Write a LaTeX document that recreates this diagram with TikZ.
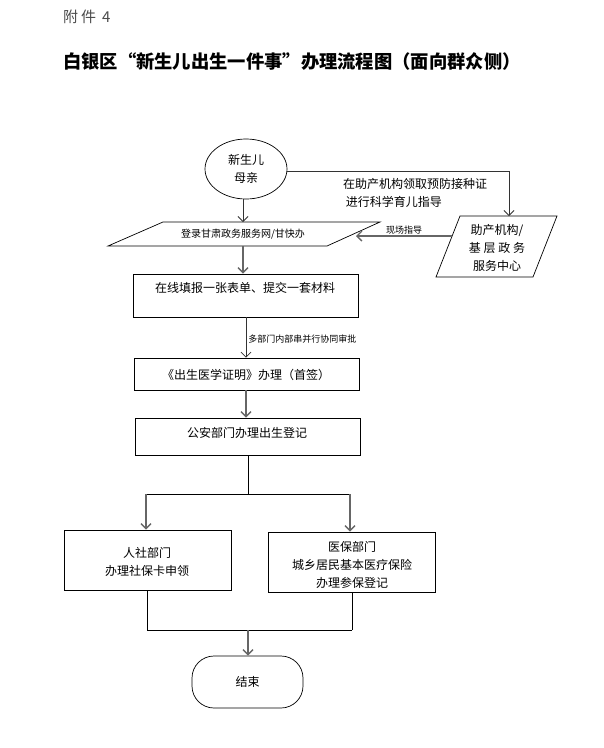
\documentclass[tikz,border=0pt]{standalone}
\usepackage{fontspec}
\setmainfont{Noto Sans CJK SC}
\usetikzlibrary{arrows.meta,shapes.geometric,fit}
\begin{document}
\begin{tikzpicture}[x=1pt,y=-1pt,
  lbl/.style={font=\fontsize{12}{18}\selectfont, align=center, inner sep=0pt},
  smalllbl/.style={font=\fontsize{9}{10}\selectfont, inner sep=0pt},
  boxr/.style={draw, line width=0.7pt, inner sep=0pt},
  ln/.style={draw=black, line width=0.7pt},
  arrthin/.style={draw=black!80, line width=0.8pt, -{Straight Barb[length=5pt,width=10pt]}},
  arrthick/.style={draw=black!60, line width=1.4pt, -{Straight Barb[length=5pt,width=10pt]}}]
\useasboundingbox (0,0) rectangle (604,748);
\fill[white] (0,0) rectangle (604,748);

% header
\node[anchor=west, inner sep=0pt, text=black!70, font=\fontsize{15}{16}\selectfont] (att) at (63,17) {附\hspace{3pt}件\hspace{6pt}4};
\node[anchor=west, inner sep=0pt, font=\fontsize{18.3}{20}\selectfont\bfseries] (title) at (63,62) {白银区“新生儿出生一件事”办理流程图（面向群众侧）};

% start ellipse
\node[draw, ellipse, line width=0.7pt, minimum width=82pt, minimum height=60pt, inner sep=0pt, lbl] (e) at (246,169) {新生儿\\母亲};

% parallelogram 1
\draw[ln] (163,222) -- (380,222) -- (327,246) -- (108,246) -- cycle;
\node[inner sep=0pt, font=\fontsize{10}{12}\selectfont] (p1) at (243,234) {登录甘肃政务服务网/甘快办};
\coordinate (p1top) at (243,222);
\coordinate (p1bot) at (243,246);
\coordinate (p1r) at (356,236);

% parallelogram 2
\draw[ln] (460,216) -- (557,216) -- (533,277) -- (436,277) -- cycle;
\node[lbl] (p2) at (497,248) {助产机构/\\基 层 政 务\\服务中心};
\coordinate (p2top) at (509,216);
\coordinate (p2l) at (452,236);

% side label
\node[lbl, anchor=west, align=left] (side) at (343,193) {在助产机构领取预防接种证\\\ 进行科学育儿指导};

% boxes
\node[boxr, fit={(133,274) (358,317)}] (b3) {};
\node[lbl] (t3) at (245,288) {在线填报一张表单、提交一套材料};
\node[boxr, fit={(134,358) (359,390)}] (b4) {};
\node[lbl] (t4) at (246,375) {《出生医学证明》办理（首签）};
\node[boxr, fit={(135,418) (360,455)}] (b5) {};
\node[lbl] (t5) at (247,433) {公安部门办理出生登记};
\node[boxr, fit={(64,530) (231,590)}] (bl) {};
\node[lbl] (tl) at (147,562) {人社部门\\办理社保卡申领};
\node[boxr, fit={(268,532) (435,592)}] (br) {};
\node[lbl] (tr) at (352,564.5) {医保部门\\城乡居民基本医疗保险\\办理参保登记};

% terminator
\node[draw, line width=0.7pt, rounded corners=22pt, minimum width=111pt, minimum height=52pt, inner sep=0pt, lbl] (end) at (247.5,682) {结束};

% junction coordinates
\coordinate (j1) at (248,494);
\coordinate (j1l) at (146,494);
\coordinate (j1r) at (350,494);
\coordinate (j2l) at (147,630);
\coordinate (j2r) at (352,630);
\coordinate (j2) at (248,630);

% connectors
\draw[arrthin] (p1top |- e.south) -- (p1top);
\draw[arrthin] (e.east |- 0,171) -| (p2top);
\draw[arrthick] (p2l) -- (p1r) node[midway, above=1pt, smalllbl] (lg) {现场指导};
\draw[arrthick] (p1bot) -- (p1bot |- b3.north);
\draw[arrthin] (b3.south -| 246,0) -- (b4.north -| 246,0) node[pos=0.55, right=2pt, smalllbl] (lm) {多部门内部串并行协同审批};
\draw[arrthick] (b4.south -| 246,0) -- (b5.north -| 246,0);
\draw[ln] (b5.south -| j1) -- (j1);
\draw[ln] (j1l) -- (j1r);
\draw[arrthick] (j1l) -- (j1l |- bl.north);
\draw[arrthick] (j1r) -- (j1r |- br.north);
\draw[ln] (bl.south -| j2l) -- (j2l);
\draw[ln] (br.south -| j2r) -- (j2r);
\draw[ln] (j2l) -- (j2r);
\draw[arrthick] (j2) -- (end.north -| j2);
\end{tikzpicture}
\end{document}
